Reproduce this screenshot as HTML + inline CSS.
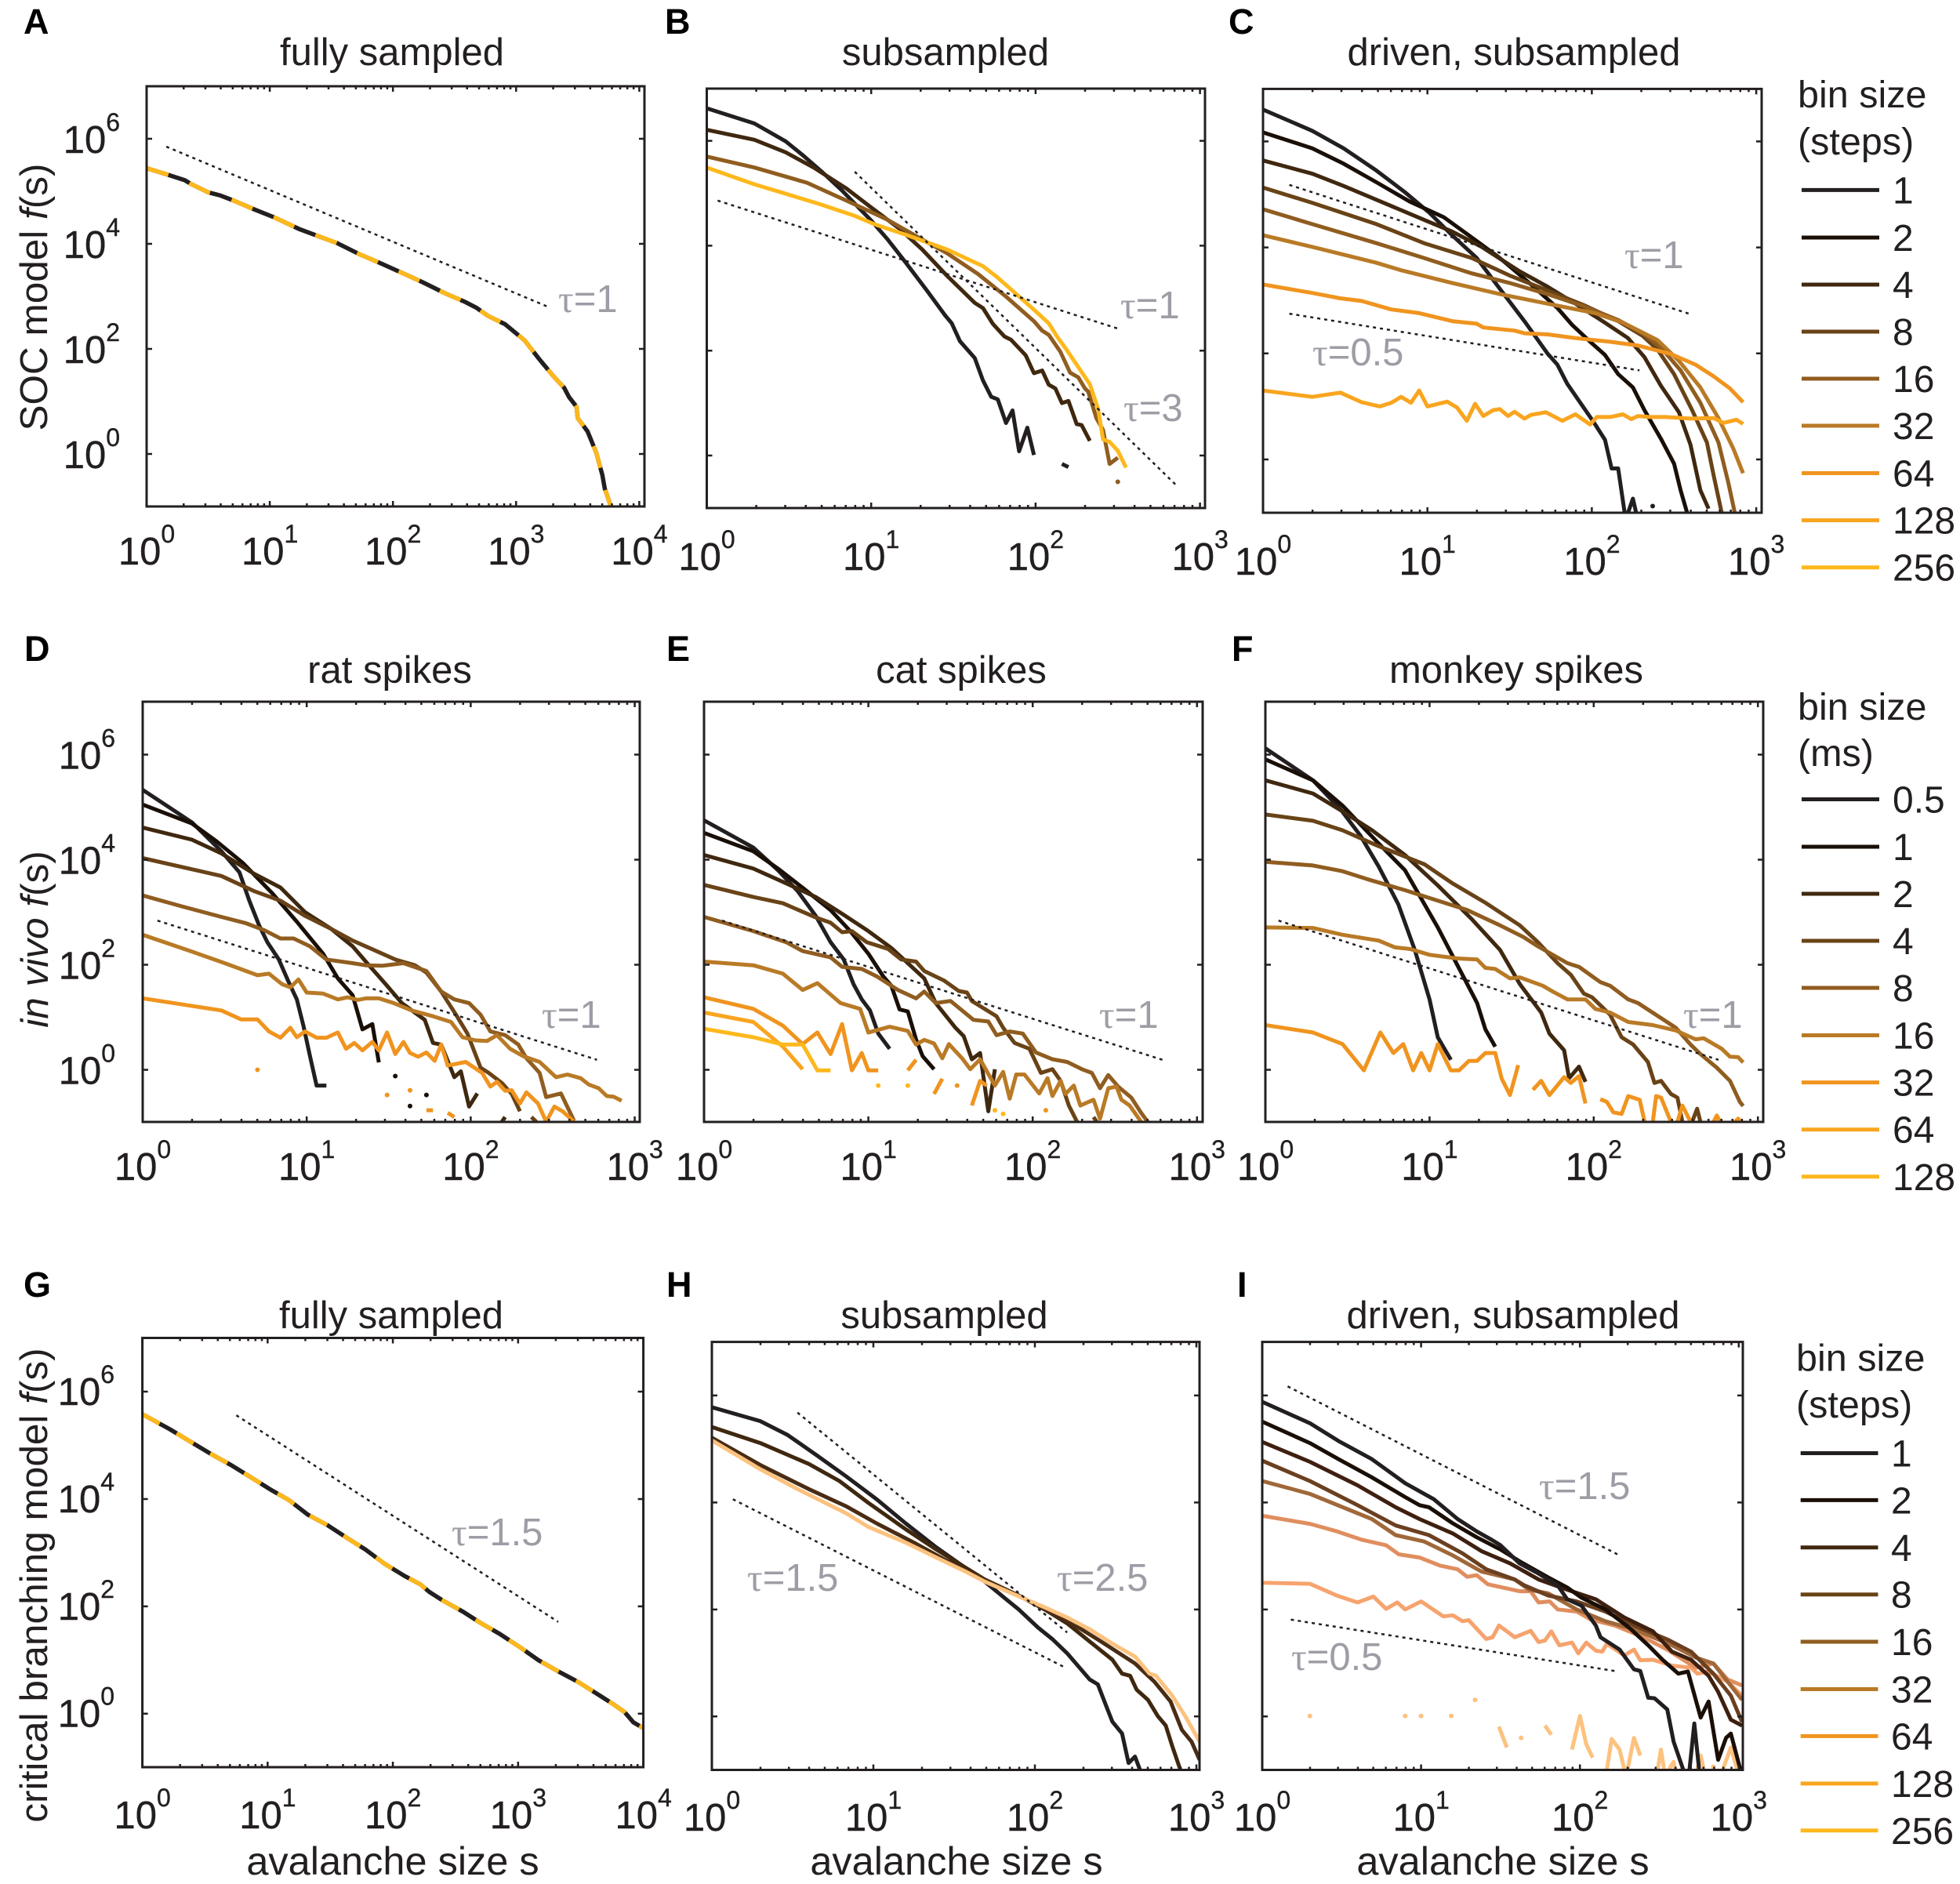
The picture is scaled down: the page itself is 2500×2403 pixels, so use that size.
<!DOCTYPE html>
<html lang="en">
<head>
<meta charset="utf-8">
<title>Avalanche size distributions</title>
<style>
html,body{margin:0;padding:0;background:#fff;}
svg{display:block;}
text{font-family:"Liberation Sans",sans-serif;fill:#231f20;}
</style>
</head>
<body>
<svg id="figure" xmlns="http://www.w3.org/2000/svg" width="2500" height="2403" viewBox="0 0 2500 2403"></svg>
<script>
// All series: log10(avalanche size s) and log10(f(s)); null = gap in the curve.
const xExpFour = [0, 1, 2, 3, 4];
const xExpThree = [0, 1, 2, 3];
const yExp = [0, 2, 4, 6];
const minorLogs = [0.301, 0.477, 0.602, 0.699, 0.778, 0.845, 0.903, 0.954];
const binsSteps = ['1', '2', '4', '8', '16', '32', '64', '128', '256'];
const binsMs = ['0.5', '1', '2', '4', '8', '16', '32', '64', '128'];

const A_s = [0,.18,.31,.36,.50,.60,.71,.87,1.04,1.24,1.40,1.55,1.73,1.91,2.08,2.24,2.43,2.59,2.68,2.77,2.91,3.07,3.19,3.30,3.39,3.43,3.49,3.50,3.58,3.65,3.70,3.72,3.77];
const A_f = [5.44,5.31,5.21,5.14,4.98,4.92,4.82,4.66,4.50,4.28,4.14,4.01,3.80,3.62,3.44,3.27,3.05,2.89,2.78,2.63,2.47,2.16,1.80,1.49,1.26,1.08,.90,.68,.43,.03,-.40,-.66,-1.0];

const B1_s = [0,.29,.48,.59,.70,.82,1.0,1.10,1.21,1.34,1.45,1.49,1.54,1.63,1.68,1.73,1.77,1.82,1.86,1.90,1.95,1.99,null,2.16,2.20];
const B1_f = [6.62,6.33,5.99,5.71,5.41,5.06,4.48,4.12,3.68,3.14,2.67,2.52,2.18,1.86,1.43,1.12,1.07,.62,.86,.08,.53,.01,null,-.16,-.22];
const B2_s = [0,.29,.48,.65,.85,1.0,1.17,1.31,1.46,1.63,1.68,1.74,1.81,1.85,1.94,1.99,2.04,2.08,2.12,2.16,2.20,2.25,2.28,2.33];
const B2_f = [6.21,6.02,5.78,5.49,5.09,4.73,4.33,3.93,3.43,2.91,2.81,2.51,2.27,2.21,1.91,1.57,1.62,1.35,1.28,1.0,1.04,.60,.58,.28];
const B3_s = [0,.29,.61,.85,1.09,1.31,1.46,1.65,1.82,1.99,2.04,2.08,2.15,2.21,2.26,2.30,2.32,2.37,2.41,2.45,2.50,null,2.50,null];
const B3_f = [5.70,5.49,5.20,4.86,4.51,4.12,3.86,3.46,3.03,2.56,2.38,2.30,1.98,1.58,1.49,1.28,1.22,.71,.49,-.16,-.04,null,-.50,null];
const B4_s = [0,.29,.46,.68,.90,1.02,1.21,1.46,1.68,1.77,1.90,1.99,2.08,2.13,2.19,2.33,2.38,2.41,2.45,2.50,2.55];
const B4_f = [5.49,5.17,5.01,4.80,4.57,4.41,4.21,3.93,3.61,3.39,3.03,2.78,2.52,2.27,2.01,1.36,.89,.31,.26,.09,-.23];

const C1_s = [0,.30,.49,.69,.86,1.01,1.15,1.30,1.44,1.59,1.73,1.79,1.85,1.93,2.01,2.08,2.12,2.16,2.20,null,2.22,2.25,2.27,null,2.37,null];
const C1_f = [6.60,6.20,5.87,5.45,5.05,4.66,4.23,3.80,3.22,2.61,2.0,1.79,1.43,1.07,.71,.37,-.17,-.17,-1.01,null,-1.01,-.74,-1.01,null,-.88,null];
const C2_s = [0,.30,.49,.69,.89,1.10,1.30,1.44,1.62,1.79,1.88,1.99,2.08,2.16,2.25,2.32,2.42,2.50,2.54,2.58];
const C2_f = [6.17,5.87,5.58,5.23,4.87,4.57,4.12,3.80,3.33,2.86,2.54,2.22,1.97,1.61,1.36,.93,.39,-.08,-.58,-1.01];
const C3_s = [0,.30,.49,.69,.98,1.15,1.33,1.56,1.73,1.90,2.08,2.22,2.32,2.42,2.53,2.60,2.66,2.71];
const C3_f = [5.64,5.39,5.16,4.90,4.52,4.30,4.01,3.55,3.26,2.94,2.58,2.29,1.93,1.39,.89,.28,-.58,-.93];
const C4_s = [0,.30,.69,.98,1.27,1.50,1.73,1.96,2.16,2.31,2.40,2.50,2.61,2.70,2.74,2.79];
const C4_f = [5.13,4.84,4.44,4.08,3.80,3.47,3.19,2.90,2.61,2.33,2.07,1.61,.93,.32,-.29,-1.01];
const C5_s = [0,.30,.69,.98,1.27,1.50,1.73,1.96,2.16,2.32,2.42,2.54,2.66,2.77,2.83,2.87];
const C5_f = [4.72,4.44,4.08,3.80,3.51,3.33,3.12,2.88,2.63,2.36,2.11,1.68,1.07,.32,-.44,-1.01];
const C6_s = [0,.30,.69,.84,1.15,1.44,1.73,2.02,2.19,2.40,2.53,2.66,2.77,2.86,2.92];
const C6_f = [4.23,4.01,3.71,3.57,3.33,3.12,2.94,2.76,2.58,2.25,1.86,1.36,.78,.21,-.26];
const C7_s = [0,.30,.47,.60,.78,.95,1.15,1.30,1.34,1.53,1.59,1.73,1.90,2.11,2.28,2.48,2.63,2.74,2.84,2.92];
const C7_f = [3.30,3.14,3.04,2.99,2.83,2.76,2.61,2.56,2.49,2.43,2.38,2.36,2.29,2.22,2.15,1.99,1.79,1.57,1.34,1.08];
const C8_s = [0,.30,.47,.60,.71,.78,.84,.90,.95,1.0,1.12,1.18,1.24,1.29,1.34,1.40,1.44,1.49,1.53,1.59,1.63,1.72,1.82,1.90,1.99,2.03,2.11,2.19,2.24,2.28,2.35,2.45,2.60,2.74,2.80,2.88,2.92];
const C8_f = [1.30,1.18,1.26,1.08,1.0,1.07,1.18,1.07,1.30,1.0,1.09,.98,.73,1.05,.82,.93,.95,.82,.90,.77,.84,.89,.73,.85,.66,.80,.80,.85,.76,.82,.80,.80,.77,.78,.69,.75,.67];

const D1_s = [0,.30,.48,.59,.65,.71,.76,.83,.89,.94,.98,1.02,1.06,1.12];
const D1_f = [5.33,4.71,4.16,3.76,3.22,2.75,2.43,2.10,1.67,1.34,.84,.26,-.30,-.30];
const D2_s = [0,.30,.45,.61,.79,.94,1.10,1.19,1.28,1.34,1.40,1.44,null,1.54,null,1.73,null,1.63,null];
const D2_f = [5.05,4.69,4.35,3.94,3.36,2.82,2.21,1.74,1.42,.77,.87,.14,null,-.12,null,-.48,null,-.69,null];
const D3_s = [0,.30,.48,.68,.84,.99,1.15,1.28,1.38,1.49,1.58,1.72,1.77,1.82,1.90,1.94,1.99,2.04,null,2.19,2.21];
const D3_f = [4.61,4.38,4.12,3.73,3.47,3.0,2.68,2.35,1.99,1.60,1.27,.95,.51,.48,-.14,-.03,-.70,-.45,null,-.99,-.90];
const D4_s = [0,.48,.68,.84,.99,1.15,1.28,1.41,1.54,1.66,1.73,1.82,1.91,1.98,2.06,2.11,2.19,2.25,2.30,null,2.37,2.40];
const D4_f = [4.03,3.69,3.40,3.22,2.93,2.68,2.46,2.28,2.10,1.99,1.85,1.49,1.05,.69,.04,-.06,-.25,-.46,-.79,null,-.90,-.99];
const D5_s = [0,.24,.48,.63,.74,.84,.92,1.02,1.12,1.28,1.36,1.46,1.59,1.73,1.82,1.90,1.99,2.06,2.12,2.21,2.29,2.34,2.42,2.46,2.55,2.63];
const D5_f = [3.32,3.11,2.91,2.79,2.66,2.50,2.50,2.35,2.10,2.03,1.99,1.98,2.03,1.88,1.49,1.34,1.27,1.05,.73,.66,.48,.22,-.06,-.52,-.45,-.97];
const D6_s = [0,.30,.50,.70,.77,.85,.90,.95,1.0,1.10,1.19,1.25,1.31,1.36,1.44,1.53,1.64,1.77,1.88,1.95,2.03,2.10,2.16,2.24,2.32,2.42,2.52,2.59,2.67,2.72,2.78,2.83,2.87,2.92];
const D6_f = [2.57,2.25,2.03,1.80,1.83,1.63,1.57,1.72,1.47,1.45,1.34,1.38,1.33,1.36,1.36,1.27,1.13,1.02,.91,.62,.56,.55,.66,.40,.26,.15,-.14,-.09,-.16,-.28,-.35,-.50,-.51,-.59];
const D7_s = [0,.48,.60,.70,.77,.84,.90,.94,.99,1.06,1.12,1.19,1.24,1.29,1.34,1.40,1.44,1.49,1.54,1.59,1.63,1.68,1.73,1.78,1.82,1.86,1.97,2.07,2.12,2.16,2.21,2.25,2.30,2.34,2.41,2.46,2.51,2.56,2.63,null,.70,null,1.49,null,1.63,null,1.73,1.77,null,1.86,1.90];
const D7_f = [1.36,1.13,.96,.96,.73,.61,.80,.62,.73,.61,.61,.71,.40,.51,.37,.53,.37,.71,.30,.53,.32,.25,.33,.17,.48,.08,.15,-.06,-.32,-.23,-.40,-.39,-.64,-.43,-.64,-.99,-.70,-.79,-.99,null,0,null,-.48,null,-.39,null,-.77,-.77,null,-.82,-.90];

const E1_s = [0,.30,.45,.57,.68,.77,.85,.91,.96,1.01,1.06,1.13];
const E1_f = [4.75,4.23,3.80,3.40,2.93,2.43,2.10,1.63,1.34,1.13,.69,.40];
const E2_s = [0,.30,.45,.61,.77,.89,1.0,1.09,1.14,1.19,1.24,1.29,1.33,1.40];
const E2_f = [4.51,4.16,3.83,3.44,3.04,2.64,2.21,1.78,1.60,1.15,1.11,.58,.26,.01];
const E3_s = [0,.30,.50,.68,.84,1.0,1.14,1.23,1.34,1.41,1.53,1.58,1.63,1.68,1.73,1.77];
const E3_f = [4.09,3.83,3.55,3.29,2.97,2.64,2.32,2.06,1.74,1.27,.80,.64,.20,.32,-.79,.01];
const E4_s = [0,.30,.48,.68,.77,.84,.90,.99,1.12,1.20,1.29,1.34,1.46,1.55,1.60,1.63,1.78,1.82,1.89,1.98,2.05,2.12,2.17,2.22,2.27,null,2.37,2.39];
const E4_f = [3.52,3.29,3.17,2.90,2.80,2.62,2.64,2.43,2.30,2.10,2.06,1.88,1.70,1.50,1.47,1.31,1.02,.80,.51,.40,-.06,.01,-.21,-.68,-.99,null,-.90,-.99];
const E5_s = [0,.30,.50,.60,.77,.84,.96,1.05,1.18,1.29,1.34,1.41,1.50,1.64,1.73,1.78,1.86,1.94,2.02,2.12,2.21,2.30,2.36,2.41,2.46,2.52,2.60,2.66,2.70];
const E5_f = [2.91,2.64,2.43,2.26,2.14,1.96,1.92,1.78,1.52,1.36,1.49,1.27,1.31,.95,.92,.66,.73,.69,.33,.20,.15,.01,-.06,-.35,-.10,-.32,-.53,-.82,-.99];
const E6_s = [0,.30,.48,.60,.69,.83,.95,1.0,1.13,1.24,1.29,1.34,1.40,1.45,1.49,1.57,1.62,1.68,1.77,1.82,1.86,1.90,1.95,2.04,2.09,2.12,2.17,2.20,2.25,2.29,2.37,2.41,2.46,2.51,2.54,2.59,2.66];
const E6_f = [2.06,1.99,1.83,1.52,1.65,1.27,1.16,.71,.82,.74,.48,.57,.50,.22,.49,.22,.01,.20,-.30,-.04,-.55,-.09,-.09,-.45,-.16,-.50,-.21,-.46,-.30,-.68,-.57,-.93,-.35,-.32,-.57,-.68,-.99];
const E7_s = [0,.30,.48,.60,.69,.77,.84,.90,.96,1.0,1.06,null,1.24,1.29,null,1.40,1.45,null,1.54,null,1.63,1.68,1.72,null,2.08,null];
const E7_f = [1.38,1.16,.84,.49,.71,.30,.87,-.01,.32,-.01,-.01,null,-.01,.19,null,-.46,-.17,null,-.30,null,-.68,-.21,-.30,null,-.77,null];
const E8_s = [0,.30,.48,.60];
const E8_f = [1.09,.91,.44,.01];
const E9_s = [0,.30,.48,.60,.69,.77,null,1.06,null,1.24,null,1.77,null,1.82,null];
const E9_f = [.78,.62,.48,.48,-.01,-.01,null,-.30,null,-.30,null,-.77,null,-.84,null];

const F1_s = [0,.29,.46,.58,.69,.81,.91,1.0,1.05,1.13];
const F1_f = [6.12,5.51,4.95,4.45,3.87,3.15,2.28,1.34,.62,.19];
const F2_s = [0,.29,.47,.68,.85,1.05,1.17,1.29,1.34,1.40];
const F2_f = [5.91,5.51,5.03,4.34,3.80,2.71,1.99,1.27,.77,.44];
const F3_s = [0,.29,.47,.65,.85,1.05,1.26,1.43,1.55,1.68,1.73,1.82,1.85,1.91,1.95];
const F3_f = [5.51,5.26,4.92,4.56,4.09,3.51,2.86,2.28,1.63,1.09,.69,.37,-.16,.06,-.23];
const F4_s = [0,.29,.47,.68,.97,1.14,1.34,1.55,1.66,1.78,1.86,1.94,1.99,2.10,2.17,2.24,2.33,2.37,2.41,2.47,2.51,2.54,null,2.60,2.63,2.65];
const F4_f = [4.86,4.74,4.56,4.27,3.91,3.55,3.18,2.75,2.43,2.03,1.81,1.45,1.38,1.05,.62,.48,.15,-.25,-.21,-.46,-.53,-.99,null,-.99,-.74,-.99];
const F5_s = [0,.29,.47,.62,.85,1.05,1.23,1.43,1.57,1.66,1.84,1.91,2.04,2.10,2.21,2.27,2.50,2.59,2.65,2.75,2.83,2.89,2.91];
const F5_f = [3.96,3.89,3.78,3.63,3.42,3.22,3.04,2.75,2.53,2.35,2.03,1.96,1.67,1.60,1.34,1.27,.80,.48,.30,.04,-.21,-.61,-.69];
const F6_s = [0,.29,.47,.69,.79,.88,1.0,1.17,1.29,1.34,1.40,1.49,1.55,1.69,1.75,1.84,1.95,2.01,2.10,2.21,2.36,2.50,2.62,2.67,2.78,2.83,2.88,2.91];
const F6_f = [2.71,2.70,2.57,2.46,2.33,2.30,2.19,2.12,2.10,1.94,1.92,1.74,1.76,1.60,1.49,1.34,1.34,1.16,1.09,.91,.85,.75,.58,.60,.40,.25,.24,.14];
const F7_s = [0,.29,.47,.60,.70,.78,.84,.90,.95,1.0,1.05,1.13,1.18,1.24,1.29,1.34,1.40,1.44,1.49,1.54,null,1.63,1.68,1.73,1.82,1.86,1.91,1.95,null,2.04,2.08,2.12,2.17,2.21,2.28,2.31,null,2.36,2.38,2.41,2.47,null,2.51,2.54,2.59,null,2.73,2.75,2.77,null,2.86,2.88,2.89];
const F7_f = [.85,.71,.49,-.01,.71,.32,.49,-.01,.32,-.01,.49,-.01,-.01,.17,.17,.32,.32,-.17,-.48,.09,null,-.38,-.21,-.48,-.14,-.25,-.12,-.64,null,-.56,-.61,-.81,-.84,-.50,-.57,-.99,null,-.99,-.50,-.53,-.99,null,-.99,-.68,-.99,null,-.99,-.87,-.99,null,-.99,-.93,-.99];

const G_s = [0,.22,.39,.54,.71,.87,1.02,1.17,1.32,1.48,1.63,1.78,1.93,2.09,2.22,2.29,2.39,2.56,2.70,2.85,3.02,3.16,3.31,3.48,3.63,3.77,3.85,3.92,4.0];
const G_f = [5.58,5.30,5.06,4.85,4.63,4.40,4.18,3.98,3.71,3.51,3.28,3.06,2.80,2.57,2.41,2.27,2.12,1.90,1.69,1.49,1.23,1.0,.80,.59,.37,.16,.03,-.16,-.27];

const H1_s = [0,.30,.47,.65,.83,1.02,1.20,1.39,1.55,1.69,1.81,1.90,2.02,2.11,2.20,2.34,2.39,2.45,2.48,2.54,2.58,2.62,2.65];
const H1_f = [5.78,5.52,5.26,4.88,4.49,4.06,3.61,3.16,2.82,2.52,2.22,2.0,1.66,1.44,1.18,.69,.60,.13,-.10,-.32,-.87,-.75,-.99];
const H2_s = [0,.30,.60,.79,.97,1.20,1.39,1.55,1.71,1.90,2.06,2.20,2.34,2.48,2.54,2.59,2.63,2.70,2.76,2.81,2.85,2.90];
const H2_f = [5.41,5.11,4.72,4.40,3.99,3.50,3.12,2.82,2.52,2.26,2.0,1.74,1.40,1.06,.80,.76,.50,.31,.01,-.17,-.55,-.99];
const H3_s = [0,.30,.60,.83,1.02,1.25,1.46,1.69,1.90,2.06,2.23,2.41,2.62,2.74,2.84,2.91,2.97,3.02];
const H3_f = [5.21,4.70,4.25,3.93,3.61,3.25,2.90,2.56,2.26,2.0,1.74,1.40,.99,.65,.28,-.25,-.47,-.81];
const H4_s = [0,.30,.53,.83,.97,1.20,1.37,1.57,1.69,1.92,2.06,2.20,2.34,2.48,2.62,2.71,2.75,2.85,2.93,3.02];
const H4_f = [5.16,4.62,4.25,3.80,3.54,3.25,3.0,2.71,2.52,2.22,2.04,1.85,1.63,1.36,1.12,.80,.76,.39,.01,-.47];

const I1_s = [0,.30,.48,.69,.90,1.08,1.23,1.35,1.44,1.50,1.62,1.74,1.86,1.92,2.01,2.10,2.13,2.25,2.34,2.38,2.43,2.47,2.55,2.59,2.65,null,2.69,2.72,2.75];
const I1_f = [5.88,5.48,5.15,4.81,4.36,4.06,3.69,3.46,3.31,3.20,2.86,2.67,2.45,2.19,2.07,1.70,1.48,1.25,.88,.85,.35,.34,.13,-.47,-.99,null,-.99,-.13,-.99];
const I2_s = [0,.30,.48,.69,.90,.99,1.05,1.20,1.35,1.50,1.62,1.80,1.92,2.01,2.16,2.31,2.43,2.52,2.62,2.68,2.76,2.81,2.87,2.92,2.95,3.01];
const I2_f = [5.51,5.11,4.81,4.47,4.10,3.95,3.91,3.61,3.35,3.12,2.90,2.60,2.41,2.22,2.0,1.66,1.33,1.06,.80,.84,-.02,.28,-.81,-.40,-.32,-.99];
const I3_s = [0,.30,.60,.84,.99,1.20,1.38,1.56,1.74,1.92,2.10,2.28,2.46,2.58,2.70,2.81,2.87,2.95,3.02];
const I3_f = [5.13,4.76,4.32,3.91,3.69,3.42,3.09,2.86,2.56,2.37,2.19,1.85,1.59,1.21,1.06,.76,.46,-.06,-.17];
const I4_s = [0,.30,.60,.84,1.05,1.26,1.41,1.59,1.65,1.80,1.98,2.16,2.34,2.55,2.70,2.84,2.95,3.02];
const I4_f = [4.78,4.40,3.95,3.57,3.39,3.05,2.75,2.56,2.45,2.26,2.15,1.96,1.70,1.44,1.21,.80,.39,-.10];
const I5_s = [0,.30,.69,.84,1.02,1.20,1.38,1.59,1.68,1.80,1.98,2.16,2.34,2.58,2.73,2.84,3.02];
const I5_f = [4.40,4.16,3.69,3.39,3.27,3.01,2.71,2.56,2.37,2.30,2.0,1.78,1.63,1.33,1.10,.99,.31];
const I6_s = [0,.30,.47,.63,.78,.86,.99,1.12,1.23,1.29,1.35,1.42,1.62,1.69,1.74,1.81,1.86,1.98,2.07,2.22,2.40,2.55,2.73,2.84,2.93,3.02];
const I6_f = [3.75,3.60,3.46,3.30,3.20,3.03,2.97,2.82,2.75,2.61,2.64,2.47,2.34,2.34,2.13,2.15,2.0,1.96,1.81,1.70,1.48,1.25,.91,.99,.69,.58];
const I7_s = [0,.30,.47,.60,.70,.78,.85,.90,1.0,1.14,1.20,1.26,1.30,1.41,1.45,1.49,1.59,1.69,1.74,1.78,1.82,1.87,1.95,1.99,2.04,2.10,2.14,2.17,2.28,2.34,2.38,2.46,2.58,2.70,2.74,2.81,2.93,3.02];
const I7_f = [2.50,2.48,2.26,2.13,2.24,2.01,2.13,2.0,2.15,1.87,1.89,1.78,1.80,1.45,1.48,1.70,1.48,1.60,1.39,1.42,1.59,1.33,1.38,1.18,1.38,1.23,1.21,1.36,1.14,1.25,1.05,1.06,.95,.91,.80,.84,.65,.39];
const I8_s = [.30,null,.90,null,1.0,null,1.19,null,1.34,null,1.63,null,1.49,1.54,null,1.78,1.82,null,1.95,2.0,2.04,2.08,null,2.17,2.20,2.25,2.28,null,2.30,2.34,2.38,null,2.49,2.51,2.53,null,2.56,2.59,2.60,null,2.74,2.76,2.78,null,2.84,null,2.90,2.95,2.99];
const I8_f = [.01,null,.01,null,.01,null,.01,null,.31,null,-.40,null,-.19,-.58,null,-.17,-.34,null,-.62,.01,-.52,-.77,null,-.99,-.42,-.62,-.99,null,-.99,-.40,-.73,null,-.99,-.62,-.99,null,-.99,-.85,-.99,null,-.99,-.73,-.99,null,-.94,null,-.99,-.58,-.99];

// Reference slopes: [log s start, log s end], [log f start, log f end]
const A_ref1_s = [.16,3.25];  const A_ref1_f = [5.85,2.81];
const B_ref1_s = [.066,2.51]; const B_ref1_f = [4.86,2.41];
const B_ref3_s = [.90,2.86];  const B_ref3_f = [5.41,-.58];
const C_ref1_s = [.16,2.60];  const C_ref1_f = [5.18,2.74];
const C_ref05_s = [.16,2.29]; const C_ref05_f = [2.75,1.68];
const D_ref1_s = [.09,2.77];  const D_ref1_f = [2.84,.19];
const E_ref1_s = [.11,2.79];  const E_ref1_f = [2.84,.19];
const F_ref1_s = [.08,2.76];  const F_ref1_f = [2.84,.19];
const G_ref15_s = [.75,3.32]; const G_ref15_f = [5.56,1.71];
const H_ref15_s = [.13,2.19]; const H_ref15_f = [4.06,.91];
const H_ref25_s = [.53,2.20]; const H_ref25_f = [5.68,1.57];
const I_ref15_s = [.16,2.25]; const I_ref15_f = [6.17,3.01];
const I_ref05_s = [.18,2.24]; const I_ref05_f = [1.81,.84];

const c = ['#231f20','#1a0f06','#3f280f','#694317','#905d20','#b97a26','#f0941f','#f9a51f','#fdb81c'];
const pale = '#fcc27f';
const LINE_W = 5;

const panels = [
 {id:'A',l:187,r:822,t:110,b:646,dx:157.1,dy:67,x0:579,xExp:xExpFour,title:'fully sampled',tx:500,ty:83,lx:30,ly:43,tickY:720,yLab:153,yLabBase:18,
  series:[{s:A_s,f:A_f,col:c[0],w:5.5,name:'bin-1'},{s:A_s,f:A_f,col:c[8],w:5.5,dash:'29 29',name:'bin-256'}],
  refs:[[A_ref1_s,A_ref1_f]],taus:[['=1',712,398]]},
 {id:'B',l:901.5,r:1537,t:113,b:648,dx:209.7,dy:66.9,x0:581,xExp:xExpThree,title:'subsampled',tx:1206,ty:83,lx:848,ly:43,tickY:727,
  series:[{s:B1_s,f:B1_f,col:c[0],name:'bin-1'},{s:B2_s,f:B2_f,col:c[2],name:'bin-4'},{s:B3_s,f:B3_f,col:c[4],name:'bin-16'},{s:B4_s,f:B4_f,col:c[8],name:'bin-256'}],
  refs:[[B_ref1_s,B_ref1_f],[B_ref3_s,B_ref3_f]],taus:[['=1',1429,406],['=3',1433,537]]},
 {id:'C',l:1611,r:2247,t:113.4,b:654,dx:209.7,dy:67.6,x0:586,xExp:xExpThree,title:'driven, subsampled',tx:1931,ty:83,lx:1567,ly:43,tickY:733,
  series:[{s:C1_s,f:C1_f,col:c[0],name:'bin-1'},{s:C2_s,f:C2_f,col:c[1],name:'bin-2'},{s:C3_s,f:C3_f,col:c[2],name:'bin-4'},{s:C4_s,f:C4_f,col:c[3],name:'bin-8'},{s:C5_s,f:C5_f,col:c[4],name:'bin-16'},{s:C6_s,f:C6_f,col:c[5],name:'bin-32'},{s:C7_s,f:C7_f,col:c[6],name:'bin-64'},{s:C8_s,f:C8_f,col:c[7],name:'bin-128'}],
  refs:[[C_ref1_s,C_ref1_f],[C_ref05_s,C_ref05_f]],taus:[['=1',2072,342],['=0.5',1674,466]]},
 {id:'D',l:182,r:816,t:895,b:1431,dx:209.2,dy:67,x0:1364.5,xExp:xExpThree,title:'rat spikes',tx:497,ty:871,lx:31,ly:843,tickY:1505,yLab:147,yLabBase:18,
  series:[{s:D1_s,f:D1_f,col:c[0],name:'bin-0-5'},{s:D2_s,f:D2_f,col:c[1],name:'bin-1'},{s:D3_s,f:D3_f,col:c[2],name:'bin-2'},{s:D4_s,f:D4_f,col:c[3],name:'bin-4'},{s:D5_s,f:D5_f,col:c[4],name:'bin-8'},{s:D6_s,f:D6_f,col:c[5],name:'bin-16'},{s:D7_s,f:D7_f,col:c[6],name:'bin-32'}],
  refs:[[D_ref1_s,D_ref1_f]],taus:[['=1',691,1311]]},
 {id:'E',l:898,r:1534,t:895,b:1431,dx:209.6,dy:67,x0:1364.5,xExp:xExpThree,title:'cat spikes',tx:1226,ty:871,lx:850,ly:843,tickY:1505,
  series:[{s:E1_s,f:E1_f,col:c[0],name:'bin-0-5'},{s:E2_s,f:E2_f,col:c[1],name:'bin-1'},{s:E3_s,f:E3_f,col:c[2],name:'bin-2'},{s:E4_s,f:E4_f,col:c[3],name:'bin-4'},{s:E5_s,f:E5_f,col:c[4],name:'bin-8'},{s:E6_s,f:E6_f,col:c[5],name:'bin-16'},{s:E7_s,f:E7_f,col:c[6],name:'bin-32'},{s:E8_s,f:E8_f,col:c[7],name:'bin-64'},{s:E9_s,f:E9_f,col:c[8],name:'bin-128'}],
  refs:[[E_ref1_s,E_ref1_f]],taus:[['=1',1402,1311]]},
 {id:'F',l:1614,r:2249,t:895,b:1431,dx:209.4,dy:67,x0:1364.5,xExp:xExpThree,title:'monkey spikes',tx:1934,ty:871,lx:1571,ly:843,tickY:1505,
  series:[{s:F1_s,f:F1_f,col:c[0],name:'bin-0-5'},{s:F2_s,f:F2_f,col:c[1],name:'bin-1'},{s:F3_s,f:F3_f,col:c[2],name:'bin-2'},{s:F4_s,f:F4_f,col:c[3],name:'bin-4'},{s:F5_s,f:F5_f,col:c[4],name:'bin-8'},{s:F6_s,f:F6_f,col:c[5],name:'bin-16'},{s:F7_s,f:F7_f,col:c[6],name:'bin-32'}],
  refs:[[F_ref1_s,F_ref1_f]],taus:[['=1',2147,1311]]},
 {id:'G',l:181.6,r:820.6,t:1706.5,b:2254,dx:159.75,dy:68.44,x0:2185.7,xExp:xExpFour,title:'fully sampled',tx:499,ty:1694,lx:30,ly:1654,tickY:2332,yLab:146,yLabBase:17,xTitle:501,
  series:[{s:G_s,f:G_f,col:c[0],w:5.5,name:'bin-1'},{s:G_s,f:G_f,col:c[8],w:5.5,dash:'25 25',name:'bin-256'}],
  refs:[[G_ref15_s,G_ref15_f]],taus:[['=1.5',576,1971]]},
 {id:'H',l:908,r:1530,t:1711.6,b:2257.5,dx:206,dy:68.24,x0:2189.3,xExp:xExpThree,title:'subsampled',tx:1204.5,ty:1694,lx:850,ly:1654,tickY:2335,xTitle:1220,
  series:[{s:H1_s,f:H1_f,col:c[0],name:'bin-1'},{s:H2_s,f:H2_f,col:c[2],name:'bin-4'},{s:H3_s,f:H3_f,col:'#4a2c15',name:'bin-16'},{s:H4_s,f:H4_f,col:pale,name:'bin-256'}],
  refs:[[H_ref15_s,H_ref15_f],[H_ref25_s,H_ref25_f]],taus:[['=1.5',953,2029],['=2.5',1348,2029]]},
 {id:'I',l:1610,r:2223,t:1711.6,b:2257.5,dx:202.6,dy:68.24,x0:2189.3,xExp:xExpThree,title:'driven, subsampled',tx:1930,ty:1694,lx:1578,ly:1654,tickY:2335,xTitle:1917,
  series:[{s:I8_s,f:I8_f,col:pale,name:'bin-128'},{s:I7_s,f:I7_f,col:'#f6a36e',name:'bin-64'},{s:I6_s,f:I6_f,col:'#e08e5f',name:'bin-32'},{s:I5_s,f:I5_f,col:'#a0683a',name:'bin-16'},{s:I4_s,f:I4_f,col:'#6b4020',name:'bin-8'},{s:I3_s,f:I3_f,col:'#3f2010',name:'bin-4'},{s:I2_s,f:I2_f,col:c[1],name:'bin-2'},{s:I1_s,f:I1_f,col:c[0],name:'bin-1'}],
  refs:[[I_ref15_s,I_ref15_f],[I_ref05_s,I_ref05_f]],taus:[['=1.5',1963,1912],['=0.5',1647,2130]]}
];

const yTitles = [
 {name:'y-axis-title-soc',x:60,y:379,before:'SOC model ',italicBefore:false},
 {name:'y-axis-title-in-vivo',x:61,y:1198,before:'in vivo ',italicBefore:true},
 {name:'y-axis-title-branching',x:60,y:2022,before:'critical branching model ',italicBefore:false}
];

const legends = [
 {name:'legend-c',tx:2293,t1:'bin size',t2:'(steps)',b1:137,b2:197,x1:2298,x2:2397,lx:2414,bins:binsSteps,ys:[242.4,303,363,423,483,543,603.5,663.6,723.7]},
 {name:'legend-f',tx:2293,t1:'bin size',t2:'(ms)',b1:918,b2:977,x1:2298,x2:2397,lx:2414,bins:binsMs,ys:[1019.5,1080,1140,1200,1260,1320.5,1380.6,1440.7,1500.8]},
 {name:'legend-i',tx:2291,t1:'bin size',t2:'(steps)',b1:1748.5,b2:1808,x1:2296.7,x2:2395.5,lx:2412,bins:binsSteps,ys:[1853.5,1913.4,1973.8,2033.7,2094,2154.5,2214.4,2274.9,2334.8]}
];

const NS = 'http://www.w3.org/2000/svg';
const svg = document.getElementById('figure');
function make(tag, attrs, parent) {
  const e = document.createElementNS(NS, tag);
  for (const k in attrs) e.setAttribute(k, attrs[k]);
  (parent || svg).appendChild(e);
  return e;
}
function powerLabel(parent, exp, x, y, anchor) {
  const t = make('text', {x: x, y: y, 'font-size': 49, 'text-anchor': anchor, stroke: '#231f20', 'stroke-width': 0.4}, parent);
  t.appendChild(document.createTextNode('10'));
  const sup = make('tspan', {dy: -28, 'font-size': 32}, t);
  sup.textContent = String(exp);
  return t;
}
const defs = make('defs', {});

panels.forEach(function (p) {
  const xScale = function (v) { return p.l + v * p.dx; };
  const yScale = function (v) { return p.x0 - v * p.dy; };
  const g = make('g', {});
  
  

  const clip = make('clipPath', {id: 'clip-' + p.id}, defs);
  make('rect', {x: p.l, y: p.t, width: p.r - p.l, height: p.b - p.t}, clip);

  const letter = make('text', {x: p.lx, y: p.ly, 'font-size': 45, 'font-weight': 'bold', style: 'fill:#000'}, g);
  letter.textContent = p.id;
  
  

  const title = make('text', {x: p.tx, y: p.ty, 'font-size': 49, 'text-anchor': 'middle'}, g);
  title.textContent = p.title;
  
  

  // curves
  const lines = make('g', {'clip-path': 'url(#clip-' + p.id + ')'}, g);
  
  
  p.series.forEach(function (sr) {
    const w = sr.w || LINE_W;
    let d = '';
    const dots = [];
    let run = [];
    const flush = function () {
      if (run.length === 1) dots.push(run[0]);
      else if (run.length > 1) d += 'M' + run.map(function (q) { return q[0].toFixed(1) + ' ' + q[1].toFixed(1); }).join('L');
      run = [];
    };
    sr.s.forEach(function (v, i) {
      if (v === null || sr.f[i] === null) flush();
      else run.push([xScale(v), yScale(sr.f[i])]);
    });
    flush();
    if (d) {
      const path = make('path', {d: d, fill: 'none', stroke: sr.col, 'stroke-width': w, 'stroke-linejoin': 'round'}, lines);
      if (sr.dash) path.setAttribute('stroke-dasharray', sr.dash);
      
      
    }
    dots.forEach(function (q) {
      const dot = make('circle', {cx: q[0], cy: q[1], r: 3, fill: sr.col}, lines);
      
      
    });
  });

  // reference slopes
  p.refs.forEach(function (rf, i) {
    const ln = make('line', {x1: xScale(rf[0][0]), y1: yScale(rf[1][0]), x2: xScale(rf[0][1]), y2: yScale(rf[1][1]), stroke: '#231f20', 'stroke-width': 2.5, 'stroke-dasharray': '4 5'}, g);
    
    
  });
  p.taus.forEach(function (tu, i) {
    const t = make('text', {x: tu[1], y: tu[2], 'font-size': 49, style: 'fill:#9d9da6'}, g);
    const tau = make('tspan', {style: 'font-family:\'Liberation Serif\',serif;fill:#9d9da6'}, t);
    tau.textContent = 'τ';
    t.appendChild(document.createTextNode(tu[0]));
    
    
  });

  // frame and ticks
  const frame = make('rect', {x: p.l, y: p.t, width: p.r - p.l, height: p.b - p.t, fill: 'none', stroke: '#231f20', 'stroke-width': 3}, g);
  
  

  let tickD = '';
  p.xExp.forEach(function (ex, i) {
    const X = xScale(ex);
    tickD += 'M' + X + ' ' + p.b + 'v-7M' + X + ' ' + p.t + 'v7';
    minorLogs.forEach(function (m) {
      const mx = xScale(ex + m);
      if (mx < p.r) tickD += 'M' + mx + ' ' + p.b + 'v-4M' + mx + ' ' + p.t + 'v4';
    });
  });
  yExp.forEach(function (ex) {
    const Y = yScale(ex);
    tickD += 'M' + p.l + ' ' + Y + 'h7M' + p.r + ' ' + Y + 'h-7';
  });
  const ticks = make('path', {d: tickD, stroke: '#231f20', 'stroke-width': 2.5, fill: 'none'}, g);
  
  

  p.xExp.forEach(function (ex) {
    const lab = powerLabel(g, ex, xScale(ex), p.tickY, 'middle');
    
    
  });
  if (p.yLab) {
    yExp.forEach(function (ex) {
      const lab = powerLabel(g, ex, p.yLab, yScale(ex) + p.yLabBase, 'end');
      
      
    });
  }
  if (p.xTitle) {
    const xt = make('text', {x: p.xTitle, y: 2391, 'font-size': 50.5, 'text-anchor': 'middle'}, g);
    xt.textContent = 'avalanche size s';
    
    
  }
});

yTitles.forEach(function (yt) {
  const t = make('text', {transform: 'translate(' + yt.x + ' ' + yt.y + ') rotate(-90)', 'font-size': 49.5, 'text-anchor': 'middle'});
  const a = make('tspan', {}, t);
  if (yt.italicBefore) a.setAttribute('font-style', 'italic');
  a.textContent = yt.before;
  const f = make('tspan', {'font-style': 'italic'}, t);
  f.textContent = 'f';
  t.appendChild(document.createTextNode('(s)'));
  
  
});

legends.forEach(function (lg) {
  const g = make('g', {});
  
  
  const t1 = make('text', {x: lg.tx, y: lg.b1, 'font-size': 48.5}, g);
  t1.textContent = lg.t1;
  
  
  const t2 = make('text', {x: lg.tx, y: lg.b2, 'font-size': 48.5}, g);
  t2.textContent = lg.t2;
  
  
  lg.bins.forEach(function (b, i) {
    const ln = make('line', {x1: lg.x1, x2: lg.x2, y1: lg.ys[i], y2: lg.ys[i], stroke: c[i], 'stroke-width': 5}, g);
    
    
    const tx = make('text', {x: lg.lx, y: lg.ys[i] + 17, 'font-size': 48}, g);
    tx.textContent = b;
    
    
  });
});
</script>
</body>
</html>
